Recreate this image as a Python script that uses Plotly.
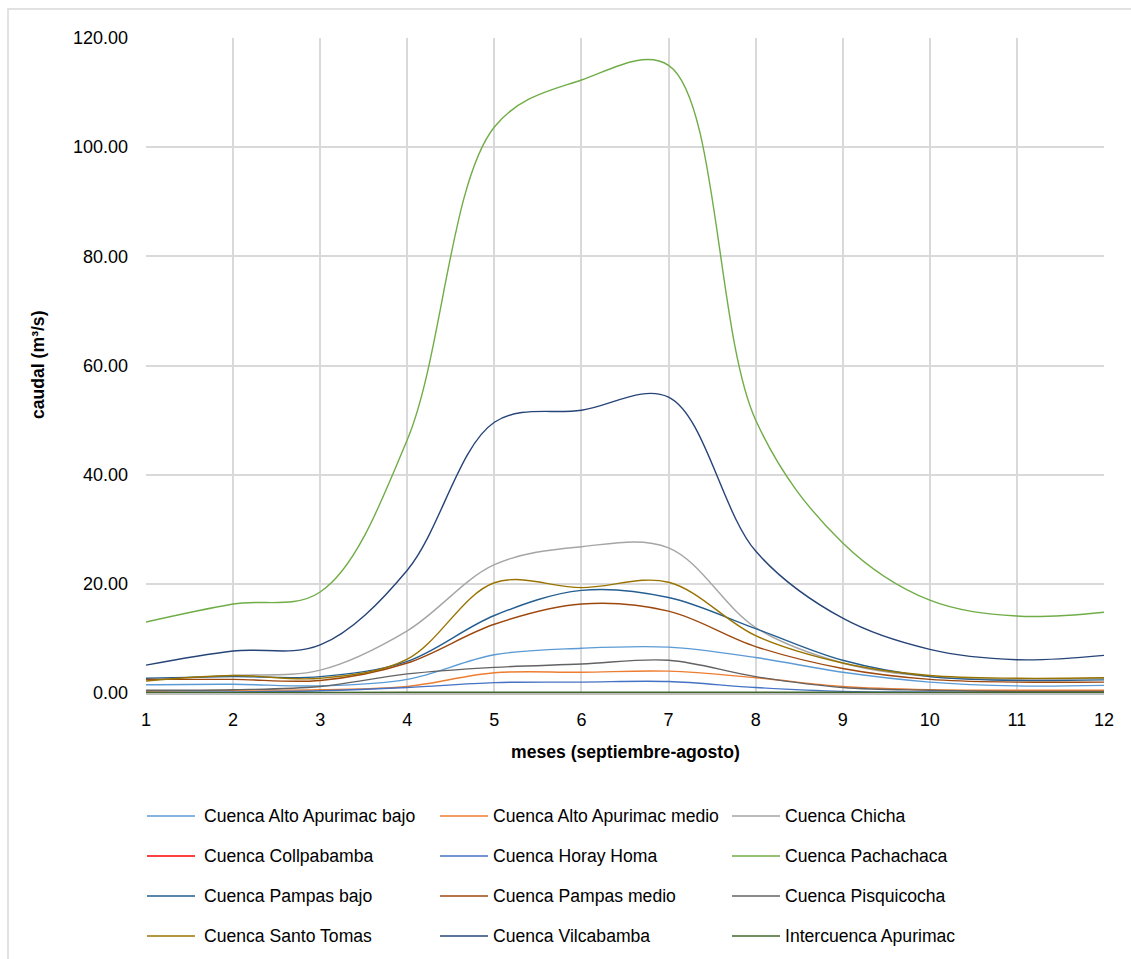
import plotly.graph_objects as go

# Meses del año hidrológico (1 = septiembre ... 12 = agosto)
meses = [1, 2, 3, 4, 5, 6, 7, 8, 9, 10, 11, 12]

# Caudales medios mensuales por cuenca (m³/s)
alto_apurimac_bajo = [1.5, 1.6, 1.3, 2.5, 7.0, 8.2, 8.4, 6.5, 3.8, 2.0, 1.3, 1.4]
alto_apurimac_medio = [0.3, 0.5, 0.6, 1.2, 3.7, 3.8, 4.0, 2.8, 1.2, 0.6, 0.5, 0.5]
chicha = [2.4, 3.2, 4.2, 11.4, 23.5, 26.8, 26.6, 12.0, 5.5, 3.0, 2.5, 2.7]
collpabamba = [0.02, 0.02, 0.02, 0.03, 0.05, 0.05, 0.05, 0.04, 0.03, 0.02, 0.02, 0.02]
horay_homa = [0.1, 0.2, 0.4, 1.0, 1.9, 2.0, 2.1, 1.0, 0.3, 0.2, 0.1, 0.1]
pachachaca = [13.0, 16.3, 18.5, 46.4, 103.7, 112.3, 115.0, 50.0, 27.5, 17.0, 14.1, 14.8]
pampas_bajo = [2.7, 3.0, 3.0, 5.8, 14.2, 18.8, 17.5, 11.8, 6.0, 3.0, 2.3, 2.4]
pampas_medio = [2.5, 2.5, 2.3, 5.5, 12.6, 16.3, 15.0, 8.5, 4.5, 2.5, 2.0, 2.0]
pisquicocha = [0.5, 0.6, 1.2, 3.5, 4.7, 5.3, 6.0, 3.0, 1.0, 0.5, 0.3, 0.3]
santo_tomas = [2.2, 3.2, 2.7, 6.2, 20.2, 19.3, 20.3, 10.5, 5.5, 3.2, 2.7, 2.8]
vilcabamba = [5.1, 7.7, 8.8, 22.5, 49.6, 51.8, 54.2, 26.0, 13.7, 8.0, 6.1, 6.9]
intercuenca_apurimac = [0.12, 0.12, 0.12, 0.13, 0.15, 0.15, 0.15, 0.14, 0.13, 0.12, 0.12, 0.12]

series = [
    ("Cuenca Alto Apurimac bajo", alto_apurimac_bajo, "#5B9BD5"),
    ("Cuenca Alto Apurimac medio", alto_apurimac_medio, "#ED7D31"),
    ("Cuenca Chicha", chicha, "#A5A5A5"),
    ("Cuenca Collpabamba", collpabamba, "#FF0000"),
    ("Cuenca Horay Homa", horay_homa, "#4472C4"),
    ("Cuenca Pachachaca", pachachaca, "#70AD47"),
    ("Cuenca Pampas bajo", pampas_bajo, "#255E91"),
    ("Cuenca Pampas medio", pampas_medio, "#9E480E"),
    ("Cuenca Pisquicocha", pisquicocha, "#636363"),
    ("Cuenca Santo Tomas", santo_tomas, "#997300"),
    ("Cuenca Vilcabamba", vilcabamba, "#264478"),
    ("Intercuenca Apurimac", intercuenca_apurimac, "#43682B"),
]

FONT = "Liberation Sans, Arial, sans-serif"
W, H = 1131, 959
L, R, T, B = 146, 27, 38, 266
PW, PH = W - L - R, H - T - B


def px_x(px):
    return (px - L) / PW


def px_y(py):
    return (H - B - py) / PH


fig = go.Figure()
for name, vals, color in series:
    fig.add_trace(go.Scatter(
        x=meses, y=vals, name=name, mode="lines",
        line=dict(color=color, width=1.4, shape="spline", smoothing=1.0),
        showlegend=False,
    ))

# Leyenda en tres columnas dibujada con segmentos y textos
col_line_x = [147, 440, 732]
col_text_x = [202, 491, 783]
row_y = [816, 856, 896, 936]
shapes = []
annotations = []
for i, (name, vals, color) in enumerate(series):
    r, c = divmod(i, 3)
    yy = px_y(row_y[r])
    shapes.append(dict(type="line", xref="paper", yref="paper",
                       x0=px_x(col_line_x[c]), x1=px_x(col_line_x[c] + 48),
                       y0=yy, y1=yy, line=dict(color=color, width=1.6)))
    annotations.append(dict(text=name, xref="paper", yref="paper",
                            x=px_x(col_text_x[c]), y=yy, xanchor="left", yanchor="middle",
                            showarrow=False, font=dict(family=FONT, size=17.6, color="#000000")))

# Marco exterior del gráfico
shapes.append(dict(type="rect", xref="paper", yref="paper",
                   x0=px_x(8), x1=px_x(1140), y0=px_y(9), y1=px_y(970),
                   line=dict(color="#D9D9D9", width=1.5), layer="below"))

annotations.append(dict(text="<b>meses (septiembre-agosto)</b>", xref="paper", yref="paper",
                        x=0.5, y=px_y(752), xanchor="center", yanchor="middle", showarrow=False,
                        font=dict(family=FONT, size=17.6, color="#000000")))
annotations.append(dict(text="<b>caudal (m³/s)</b>", xref="paper", yref="paper",
                        x=px_x(38), y=px_y(365), xanchor="center", yanchor="middle", showarrow=False,
                        textangle=-90, font=dict(family=FONT, size=17.6, color="#000000")))

fig.update_layout(
    width=W, height=H, autosize=False,
    margin=dict(l=L, r=R, t=T, b=B),
    paper_bgcolor="white", plot_bgcolor="white",
    font=dict(family=FONT, size=18, color="#000000"),
    shapes=shapes, annotations=annotations,
)
fig.update_xaxes(range=[1, 12], tickmode="array", tickvals=meses, ticktext=[str(m) for m in meses],
                 showgrid=True, gridcolor="#D9D9D9", gridwidth=1.5,
                 showline=True, linecolor="#BFBFBF", linewidth=1.5,
                 zeroline=False, ticks="", ticklabelstandoff=10,
                 tickfont=dict(family=FONT, size=18, color="#000000"))
fig.update_yaxes(range=[0, 120], tickvals=[0, 20, 40, 60, 80, 100, 120], tickformat=".2f",
                 showgrid=True, gridcolor="#D9D9D9", gridwidth=1.5,
                 showline=False, zeroline=False, ticks="", ticklabelstandoff=17,
                 tickfont=dict(family=FONT, size=18, color="#000000"))

fig.write_html("out.html")
